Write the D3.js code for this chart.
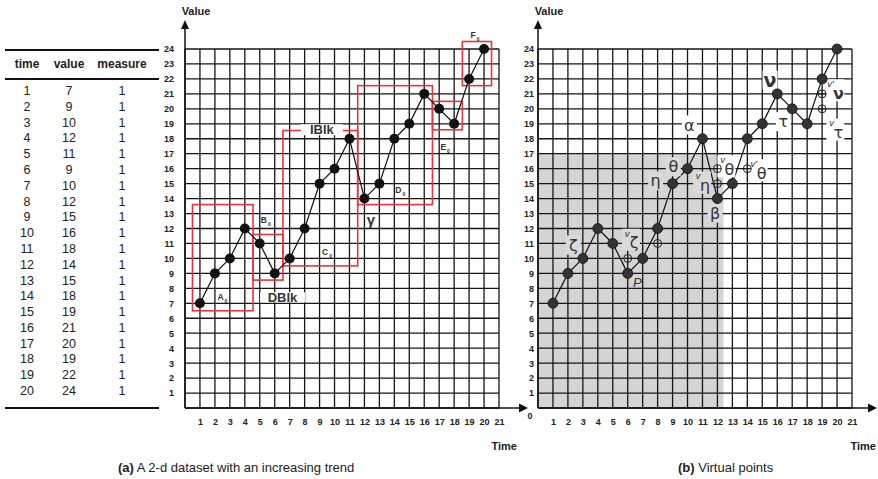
<!DOCTYPE html>
<html>
<head>
<meta charset="utf-8">
<script src="https://cdn.jsdelivr.net/npm/d3@7"></script>
<style>
body { margin: 0; background: #fff; }
text { font-family: "Liberation Sans", Arial, sans-serif; }
</style>
</head>
<body>
<script>
const width = 878,
    height = 479

// dataset (table + both charts)
const times = [1, 2, 3, 4, 5, 6, 7, 8, 9, 10, 11, 12, 13, 14, 15, 16, 17, 18, 19, 20]
const values = [7, 9, 10, 12, 11, 9, 10, 12, 15, 16, 18, 14, 15, 18, 19, 21, 20, 19, 22, 24]
const measures = [1, 1, 1, 1, 1, 1, 1, 1, 1, 1, 1, 1, 1, 1, 1, 1, 1, 1, 1, 1]
const xTicks = [1, 2, 3, 4, 5, 6, 7, 8, 9, 10, 11, 12, 13, 14, 15, 16, 17, 18, 19, 20, 21]
const yTicks = [1, 2, 3, 4, 5, 6, 7, 8, 9, 10, 11, 12, 13, 14, 15, 16, 17, 18, 19, 20, 21, 22, 23, 24]

// blocks of chart (a), in data units
const blockNames = ["A", "B", "C", "D", "E", "F"]
const blockT0 = [0.5, 4.55, 6.55, 11.55, 16.55, 18.55]
const blockT1 = [4.55, 6.55, 11.55, 16.55, 18.55, 20.5]
const blockV0 = [6.5, 8.55, 9.5, 13.6, 18.6, 21.55]
const blockV1 = [13.6, 11.6, 18.55, 21.55, 20.5, 24.5]

// virtual points of chart (b)
const virtualT = [6, 8, 12, 12, 14, 19, 19]
const virtualV = [10, 11, 16, 15, 16, 21, 20]
const shadeT = 12.4, shadeV = 17

// greek annotations of chart (b)
const greekMain = ["α", "θ", "η", "β", "ν", "τ", "ζ", "η", "θ", "θ", "ν", "τ", "ζ"]
const greekSup = ["", "", "", "", "", "", "", "v", "v", "v'", "v'", "v", "v"]
const greekT = [10.12, 9.05, 7.87, 11.84, 15.52, 16.41, 2.36, 11.17, 12.8, 14.96, 20.09, 20.09, 6.42]
const greekV = [18.92, 16.13, 15.19, 13.02, 21.93, 19.14, 10.9, 14.87, 15.96, 15.69, 21.04, 18.41, 11.05]
const greekGrey = [false, true, true, true, false, false, true, true, false, false, false, false, true]

const svg = d3.select("body")
    .append("svg")
    .attr("width", width)
    .attr("height", height)

const y = d3.scaleLinear().domain([0, 24]).range([408, 49])
const xA = d3.scaleLinear().domain([0, 21]).range([185, 499])
const xB = d3.scaleLinear().domain([0, 21]).range([538, 852])

// ---------- table ----------
const rowY = d3.scaleLinear().domain([1, 20]).range([90.7, 390.7])
const cols = [27, 69, 122]
const tbl = svg.append("g")
tbl.selectAll("line")
    .data([50, 79, 408])
    .join("line")
    .attr("x1", 5).attr("x2", 159)
    .attr("y1", d => d).attr("y2", d => d)
    .attr("stroke", "#111").attr("stroke-width", 2.2)
tbl.selectAll(".hd")
    .data(["time", "value", "measure"])
    .join("text")
    .attr("x", (d, i) => cols[i]).attr("y", 64)
    .attr("dy", "0.35em")
    .attr("text-anchor", "middle")
    .style("font-size", "12px").style("font-weight", "bold")
    .attr("fill", "#222")
    .text(d => d)
times.forEach((t, i) => {
    [t, values[i], measures[i]].forEach((v, j) => {
        tbl.append("text")
            .attr("x", cols[j]).attr("y", rowY(t))
            .attr("dy", "0.35em")
            .attr("text-anchor", "middle")
            .style("font-size", "12.5px")
            .attr("fill", "#222")
            .text(v)
    })
})

// ---------- shared chart frame ----------
function frame(g, x, arrowX, timeX, labelGap, zeroLabel) {
    g.selectAll(".vg")
        .data([0].concat(xTicks))
        .join("line")
        .attr("x1", d => x(d)).attr("x2", d => x(d))
        .attr("y1", y(0)).attr("y2", y(24))
        .attr("stroke", "#151515").attr("stroke-width", 1.3)
    g.selectAll(".hg")
        .data([0].concat(yTicks))
        .join("line")
        .attr("x1", x(0)).attr("x2", x(21))
        .attr("y1", d => y(d)).attr("y2", d => y(d))
        .attr("stroke", "#151515").attr("stroke-width", 1.3)

    // axes with arrows
    g.append("line")
        .attr("x1", x(0)).attr("x2", arrowX - 6)
        .attr("y1", y(0)).attr("y2", y(0))
        .attr("stroke", "#111").attr("stroke-width", 1.5)
    g.append("path")
        .attr("d", `M${arrowX},${y(0)} l-9,-4.5 v9 Z`)
        .attr("fill", "#111")
    g.append("line")
        .attr("x1", x(0)).attr("x2", x(0))
        .attr("y1", y(0)).attr("y2", 26)
        .attr("stroke", "#111").attr("stroke-width", 1.5)
    g.append("path")
        .attr("d", `M${x(0)},20 l-4,9 h8 Z`)
        .attr("fill", "#111")

    const ax = g.append("g")
        .attr("transform", "translate(0,419)")
        .call(d3.axisBottom(x).tickValues(xTicks).tickSize(0).tickPadding(0))
    ax.select(".domain").remove()
    const ay = g.append("g")
        .attr("transform", `translate(${x(0) - labelGap},0)`)
        .call(d3.axisLeft(y).tickValues(yTicks).tickSize(0).tickPadding(0))
    ay.select(".domain").remove()
    g.selectAll(".tick text")
        .attr("fill", "#222")
        .style("font-family", '"Liberation Sans", Arial, sans-serif')
        .style("font-size", "9px").style("font-weight", "bold")

    g.append("text")
        .attr("x", x(0) + 11).attr("y", 11).attr("dy", "0.35em")
        .attr("text-anchor", "middle")
        .style("font-size", "11px").style("font-weight", "bold")
        .attr("fill", "#222")
        .text("Value")
    g.append("text")
        .attr("x", timeX).attr("y", 446).attr("dy", "0.35em")
        .attr("text-anchor", "end")
        .style("font-size", "11px").style("font-weight", "bold")
        .attr("fill", "#222")
        .text("Time")
    if (zeroLabel) {
        g.append("text")
            .attr("x", x(0) - 8).attr("y", 416).attr("dy", "0.35em")
            .attr("text-anchor", "middle")
            .style("font-size", "9px").style("font-weight", "bold")
            .attr("fill", "#222")
            .text("0")
    }
}

const points = times.map((t, i) => [t, values[i]])

// ---------- chart (a) ----------
const ga = svg.append("g")
frame(ga, xA, 528, 517, 11, false)

const red = "#e8353a"
blockNames.forEach((n, i) => {
    ga.append("rect")
        .attr("x", xA(blockT0[i])).attr("y", y(blockV1[i]))
        .attr("width", xA(blockT1[i]) - xA(blockT0[i]))
        .attr("height", y(blockV0[i]) - y(blockV1[i]))
        .attr("fill", "none").attr("stroke", red).attr("stroke-width", 1.6)
})

ga.append("path")
    .datum(points)
    .attr("d", d3.line().x(d => xA(d[0])).y(d => y(d[1])))
    .attr("fill", "none").attr("stroke", "#111").attr("stroke-width", 1.2)
ga.selectAll(".pt")
    .data(points)
    .join("circle")
    .attr("cx", d => xA(d[0])).attr("cy", d => y(d[1]))
    .attr("r", 5)
    .attr("fill", "#111")

// block labels (name with subscript 0)
const blockLabelT = [2.5, 5.4, 9.5, 14.4, 17.4, 19.4]
const blockLabelV = [7.45, 12.58, 10.46, 14.6, 17.48, 24.94]
blockNames.forEach((n, i) => {
    const t = ga.append("text")
        .attr("x", xA(blockLabelT[i])).attr("y", y(blockLabelV[i]))
        .attr("dy", "0.35em")
        .attr("text-anchor", "middle")
        .style("font-size", "8.5px").style("font-weight", "bold")
        .attr("fill", "#333")
    t.append("tspan").text(n)
    t.append("tspan").attr("dx", 1).attr("dy", 3).style("font-size", "5px").text("0")
})

// IBlk / DBlk / gamma
function boxedLabel(g, x, yy, txt, size, bg, w, h) {
    g.append("rect")
        .attr("x", x - w / 2).attr("y", yy - h / 2)
        .attr("width", w).attr("height", h)
        .attr("fill", bg)
    g.append("text")
        .attr("x", x).attr("y", yy).attr("dy", "0.35em")
        .attr("text-anchor", "middle")
        .style("font-size", size + "px").style("font-weight", "bold")
        .attr("fill", "#333")
        .text(txt)
}
boxedLabel(ga, xA(9.15), y(18.6), "IBlk", 13, "#fff", 42, 11)
boxedLabel(ga, xA(6.52), y(7.4), "DBlk", 13, "#fff", 45, 10)
ga.append("text")
    .attr("x", xA(12.44)).attr("y", y(12.6)).attr("dy", "0.35em")
    .attr("text-anchor", "middle")
    .style("font-size", "15px").style("font-weight", "bold")
    .attr("fill", "#333")
    .text("γ")

// ---------- chart (b) ----------
const gb = svg.append("g")
gb.append("rect")
    .attr("x", xB(0)).attr("y", y(shadeV))
    .attr("width", xB(shadeT) - xB(0)).attr("height", y(0) - y(shadeV))
    .attr("fill", "#d4d4d4")
frame(gb, xB, 877, 876, 4, true)

gb.append("path")
    .datum(points)
    .attr("d", d3.line().x(d => xB(d[0])).y(d => y(d[1])))
    .attr("fill", "none").attr("stroke", "#111").attr("stroke-width", 1.2)

// greek labels with background boxes
greekMain.forEach((g, i) => {
    const cx = xB(greekT[i]), cy = y(greekV[i])
    const hasSup = greekSup[i] !== ""
    const w = hasSup ? 18 : 15, h = hasSup ? 22 : 19
    gb.append("rect")
        .attr("x", cx - w / 2 - (hasSup ? 3 : 0)).attr("y", cy - h / 2 - (hasSup ? 3 : 0))
        .attr("width", w).attr("height", h)
        .attr("fill", greekGrey[i] ? "#dadada" : "#fff")
    gb.append("text")
        .attr("x", cx).attr("y", cy).attr("dy", "0.35em")
        .attr("text-anchor", "middle")
        .style("font-family", '"DejaVu Sans", sans-serif')
        .style("font-size", g === "ν" && !hasSup ? "19px" : "16px")
        .style("font-weight", g === "ν" ? "bold" : "normal")
        .attr("fill", "#333")
        .text(g)
    if (hasSup) {
        gb.append("text")
            .attr("x", cx - 4.5).attr("y", cy - 9.5).attr("dy", "0.35em")
            .attr("text-anchor", "end")
            .style("font-size", "9.5px").style("font-style", "italic")
            .attr("fill", "#333")
            .text(greekSup[i])
    }
})
gb.append("text")
    .attr("x", xB(6.64)).attr("y", y(8.38)).attr("dy", "0.35em")
    .attr("text-anchor", "middle")
    .style("font-size", "13px").style("font-style", "italic")
    .attr("fill", "#333")
    .text("P")

// virtual points (circle with cross)
const vg = gb.selectAll(".vp")
    .data(virtualT.map((t, i) => [t, virtualV[i]]))
    .join("g")
    .attr("transform", d => `translate(${xB(d[0])},${y(d[1])})`)
vg.append("circle").attr("r", 4).attr("fill", "none").attr("stroke", "#222").attr("stroke-width", 1)
vg.append("path").attr("d", "M-4,0H4M0,-4V4").attr("stroke", "#222").attr("stroke-width", 1)

gb.selectAll(".pt")
    .data(points)
    .join("circle")
    .attr("cx", d => xB(d[0])).attr("cy", d => y(d[1]))
    .attr("r", 5)
    .attr("fill", "#333").attr("stroke", "#111").attr("stroke-width", 0.8)

// ---------- captions ----------
const capA = svg.append("text").attr("x", 118).attr("y", 467).attr("dy", "0.35em")
    .style("font-size", "13px").attr("fill", "#222")
capA.append("tspan").style("font-weight", "bold").text("(a)")
capA.append("tspan").text(" A 2-d dataset with an increasing trend")
const capB = svg.append("text").attr("x", 678).attr("y", 467).attr("dy", "0.35em")
    .style("font-size", "13px").attr("fill", "#222")
capB.append("tspan").style("font-weight", "bold").text("(b)")
capB.append("tspan").text(" Virtual points")
</script>
</body>
</html>
